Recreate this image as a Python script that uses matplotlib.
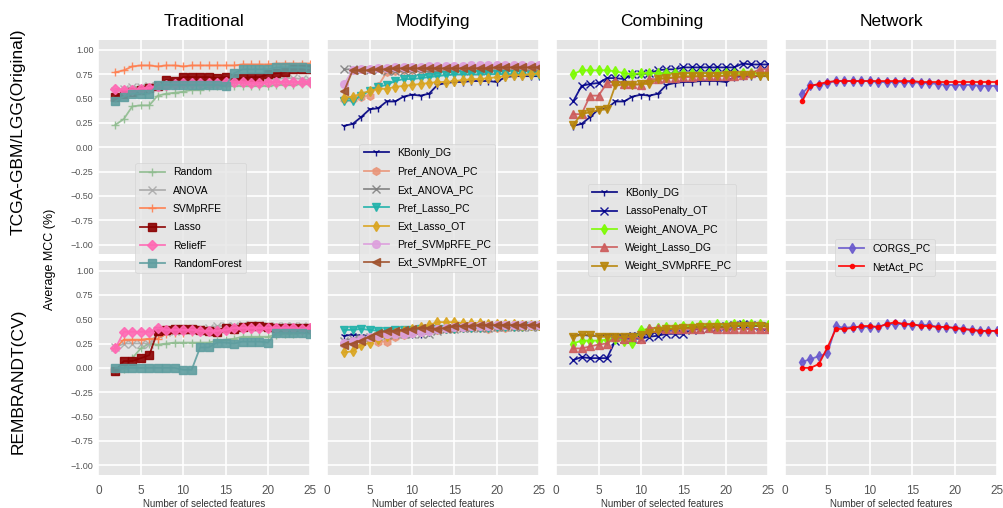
#!/usr/bin/env python3

"""
Average MCC vs number of selected features, per method family and dataset
"""

import matplotlib
matplotlib.use('Agg')
import matplotlib.pyplot as plt

n_features = list(range(2, 26))

# --- TCGA-GBM/LGG (Original) ---
trad_top = {
    'Random': [0.23, 0.29, 0.42, 0.43, 0.43, 0.53, 0.55, 0.56, 0.57, 0.59, 0.59, 0.62,
               0.63, 0.63, 0.63, 0.63, 0.63, 0.63, 0.63, 0.64, 0.64, 0.64, 0.65, 0.65],
    'ANOVA': [0.58, 0.60, 0.62, 0.62, 0.63, 0.64, 0.65, 0.66, 0.66, 0.67, 0.67, 0.67,
              0.67, 0.68, 0.68, 0.68, 0.69, 0.69, 0.70, 0.70, 0.71, 0.71, 0.70, 0.69],
    'SVMpRFE': [0.77, 0.79, 0.83, 0.84, 0.84, 0.83, 0.84, 0.84, 0.83, 0.84, 0.84, 0.84,
                0.84, 0.84, 0.84, 0.85, 0.85, 0.85, 0.85, 0.86, 0.86, 0.86, 0.86, 0.86],
    'Lasso': [0.52, 0.55, 0.57, 0.59, 0.61, 0.63, 0.69, 0.68, 0.72, 0.72, 0.72, 0.72,
              0.71, 0.72, 0.71, 0.71, 0.72, 0.72, 0.75, 0.76, 0.77, 0.80, 0.80, 0.80],
    'ReliefF': [0.60, 0.59, 0.59, 0.60, 0.61, 0.63, 0.64, 0.65, 0.66, 0.66, 0.66, 0.66,
                0.66, 0.67, 0.67, 0.67, 0.66, 0.66, 0.67, 0.67, 0.67, 0.67, 0.67, 0.67],
    'RandomForest': [0.47, 0.52, 0.55, 0.55, 0.55, 0.64, 0.64, 0.64, 0.64, 0.64, 0.64, 0.64,
                     0.64, 0.63, 0.76, 0.80, 0.80, 0.80, 0.80, 0.82, 0.82, 0.82, 0.82, 0.81],
}
kbonly_top = [0.22, 0.24, 0.31, 0.39, 0.40, 0.47, 0.47, 0.52, 0.54, 0.53, 0.55, 0.64,
              0.66, 0.67, 0.67, 0.68, 0.68, 0.68, 0.67, 0.72, 0.73, 0.73, 0.73, 0.73]
mod_top = {
    'KBonly_DG': kbonly_top,
    'Pref_ANOVA_PC': [0.50, 0.50, 0.52, 0.53, 0.63, 0.77, 0.78, 0.79, 0.79, 0.80, 0.80, 0.80,
                      0.81, 0.81, 0.81, 0.81, 0.81, 0.82, 0.82, 0.82, 0.82, 0.82, 0.82, 0.82],
    'Ext_ANOVA_PC': [0.80, 0.80, 0.79, 0.79, 0.79, 0.78, 0.78, 0.78, 0.78, 0.78, 0.78, 0.78,
                     0.78, 0.78, 0.78, 0.78, 0.78, 0.79, 0.79, 0.79, 0.79, 0.79, 0.79, 0.79],
    'Pref_Lasso_PC': [0.48, 0.48, 0.53, 0.58, 0.62, 0.64, 0.68, 0.70, 0.70, 0.71, 0.72, 0.73,
                      0.74, 0.75, 0.75, 0.75, 0.75, 0.75, 0.75, 0.75, 0.75, 0.75, 0.74, 0.74],
    'Ext_Lasso_OT': [0.51, 0.52, 0.55, 0.58, 0.60, 0.60, 0.62, 0.63, 0.64, 0.65, 0.66, 0.67,
                     0.67, 0.68, 0.69, 0.70, 0.70, 0.71, 0.72, 0.73, 0.74, 0.74, 0.75, 0.76],
    'Pref_SVMpRFE_PC': [0.65, 0.79, 0.80, 0.80, 0.81, 0.81, 0.82, 0.82, 0.82, 0.82, 0.83, 0.83,
                        0.83, 0.83, 0.83, 0.84, 0.84, 0.84, 0.84, 0.84, 0.84, 0.84, 0.84, 0.84],
    'Ext_SVMpRFE_OT': [0.58, 0.79, 0.79, 0.79, 0.80, 0.80, 0.81, 0.81, 0.81, 0.81, 0.81, 0.81,
                       0.81, 0.81, 0.81, 0.81, 0.81, 0.81, 0.82, 0.82, 0.82, 0.82, 0.82, 0.82],
}
comb_top = {
    'KBonly_DG': kbonly_top,
    'LassoPenalty_OT': [0.47, 0.63, 0.65, 0.66, 0.71, 0.71, 0.70, 0.75, 0.75, 0.76, 0.79, 0.80,
                        0.80, 0.82, 0.82, 0.82, 0.82, 0.82, 0.82, 0.82, 0.86, 0.85, 0.85, 0.85],
    'Weight_ANOVA_PC': [0.75, 0.79, 0.79, 0.79, 0.79, 0.78, 0.76, 0.75, 0.76, 0.76, 0.76, 0.76,
                        0.76, 0.76, 0.76, 0.76, 0.76, 0.76, 0.76, 0.76, 0.76, 0.76, 0.75, 0.75],
    'Weight_Lasso_DG': [0.34, 0.34, 0.53, 0.53, 0.66, 0.68, 0.65, 0.65, 0.64, 0.70, 0.70, 0.71,
                        0.71, 0.72, 0.72, 0.73, 0.73, 0.73, 0.73, 0.73, 0.74, 0.76, 0.80, 0.80],
    'Weight_SVMpRFE_PC': [0.23, 0.34, 0.36, 0.38, 0.39, 0.64, 0.64, 0.64, 0.65, 0.65, 0.70, 0.71,
                          0.72, 0.73, 0.73, 0.73, 0.73, 0.73, 0.74, 0.74, 0.74, 0.74, 0.73, 0.73],
}
net_top = {
    'CORGS_PC': [0.55, 0.64, 0.64, 0.66, 0.68, 0.68, 0.68, 0.68, 0.68, 0.67, 0.67, 0.67,
                 0.67, 0.67, 0.66, 0.66, 0.65, 0.64, 0.64, 0.64, 0.64, 0.63, 0.63, 0.63],
    'NetAct_PC': [0.47, 0.63, 0.65, 0.67, 0.68, 0.68, 0.68, 0.68, 0.68, 0.68, 0.68, 0.68,
                  0.68, 0.68, 0.67, 0.67, 0.67, 0.67, 0.67, 0.67, 0.67, 0.67, 0.67, 0.67],
}

# --- REMBRANDT (CV) ---
trad_bot = {
    'Random': [-0.03, -0.01, 0.10, 0.20, 0.25, 0.24, 0.25, 0.26, 0.26, 0.26, 0.26, 0.26,
               0.28, 0.29, 0.30, 0.32, 0.32, 0.32, 0.32, 0.34, 0.35, 0.35, 0.36, 0.36],
    'ANOVA': [0.21, 0.25, 0.25, 0.25, 0.25, 0.35, 0.37, 0.38, 0.39, 0.39, 0.40, 0.41,
              0.43, 0.43, 0.43, 0.44, 0.44, 0.44, 0.43, 0.43, 0.43, 0.43, 0.43, 0.42],
    'SVMpRFE': [0.20, 0.29, 0.29, 0.29, 0.30, 0.30, 0.35, 0.36, 0.36, 0.37, 0.38, 0.38,
                0.39, 0.39, 0.39, 0.40, 0.40, 0.40, 0.40, 0.40, 0.40, 0.40, 0.40, 0.40],
    'Lasso': [-0.03, 0.07, 0.07, 0.10, 0.13, 0.38, 0.39, 0.40, 0.40, 0.40, 0.39, 0.38,
              0.37, 0.41, 0.40, 0.42, 0.43, 0.43, 0.42, 0.41, 0.41, 0.41, 0.41, 0.41],
    'ReliefF': [0.20, 0.37, 0.37, 0.37, 0.37, 0.41, 0.39, 0.39, 0.39, 0.39, 0.38, 0.38,
                0.38, 0.39, 0.41, 0.41, 0.41, 0.41, 0.41, 0.41, 0.41, 0.41, 0.40, 0.41],
    'RandomForest': [0.00, 0.00, 0.00, 0.00, 0.00, 0.00, 0.00, 0.00, -0.02, -0.02, 0.21, 0.21,
                     0.26, 0.26, 0.25, 0.27, 0.27, 0.27, 0.26, 0.36, 0.36, 0.36, 0.36, 0.35],
}
kbonly_bot = [0.33, 0.34, 0.33, 0.33, 0.34, 0.34, 0.34, 0.35, 0.35, 0.35, 0.37, 0.39,
              0.40, 0.41, 0.41, 0.42, 0.42, 0.42, 0.42, 0.43, 0.43, 0.43, 0.43, 0.43]
mod_bot = {
    'KBonly_DG': kbonly_bot,
    'Pref_ANOVA_PC': [0.25, 0.27, 0.30, 0.30, 0.27, 0.27, 0.32, 0.34, 0.36, 0.37, 0.38, 0.39,
                      0.40, 0.40, 0.41, 0.41, 0.41, 0.40, 0.41, 0.41, 0.42, 0.42, 0.43, 0.43],
    'Ext_ANOVA_PC': [0.28, 0.30, 0.31, 0.32, 0.33, 0.34, 0.35, 0.35, 0.35, 0.35, 0.35, 0.38,
                     0.40, 0.40, 0.41, 0.41, 0.41, 0.41, 0.42, 0.42, 0.42, 0.42, 0.42, 0.42],
    'Pref_Lasso_PC': [0.39, 0.39, 0.40, 0.39, 0.38, 0.38, 0.39, 0.39, 0.39, 0.40, 0.40, 0.40,
                      0.40, 0.40, 0.41, 0.41, 0.41, 0.41, 0.42, 0.42, 0.42, 0.42, 0.43, 0.43],
    'Ext_Lasso_OT': [0.16, 0.17, 0.23, 0.26, 0.30, 0.33, 0.36, 0.38, 0.40, 0.42, 0.44, 0.47,
                     0.47, 0.47, 0.46, 0.46, 0.46, 0.45, 0.45, 0.45, 0.45, 0.44, 0.44, 0.44],
    'Pref_SVMpRFE_PC': [0.26, 0.28, 0.30, 0.32, 0.33, 0.35, 0.35, 0.35, 0.36, 0.37, 0.38, 0.40,
                        0.41, 0.42, 0.42, 0.43, 0.43, 0.43, 0.44, 0.44, 0.44, 0.44, 0.44, 0.44],
    'Ext_SVMpRFE_OT': [0.24, 0.25, 0.28, 0.32, 0.36, 0.38, 0.38, 0.39, 0.40, 0.41, 0.41, 0.40,
                       0.41, 0.43, 0.43, 0.43, 0.44, 0.44, 0.44, 0.44, 0.44, 0.44, 0.44, 0.44],
}
comb_bot = {
    'KBonly_DG': kbonly_bot,
    'LassoPenalty_OT': [0.08, 0.11, 0.10, 0.10, 0.10, 0.28, 0.30, 0.30, 0.30, 0.32, 0.33, 0.35,
                        0.35, 0.35, 0.39, 0.40, 0.41, 0.42, 0.43, 0.44, 0.45, 0.44, 0.43, 0.43],
    'Weight_ANOVA_PC': [0.25, 0.28, 0.28, 0.28, 0.29, 0.30, 0.28, 0.26, 0.39, 0.40, 0.41, 0.42,
                        0.42, 0.43, 0.43, 0.44, 0.44, 0.45, 0.44, 0.45, 0.45, 0.45, 0.45, 0.44],
    'Weight_Lasso_DG': [0.20, 0.20, 0.22, 0.24, 0.25, 0.32, 0.30, 0.32, 0.30, 0.41, 0.41, 0.40,
                        0.40, 0.40, 0.40, 0.40, 0.41, 0.40, 0.40, 0.40, 0.40, 0.40, 0.40, 0.40],
    'Weight_SVMpRFE_PC': [0.32, 0.34, 0.34, 0.32, 0.32, 0.32, 0.32, 0.32, 0.34, 0.36, 0.38, 0.40,
                          0.40, 0.41, 0.41, 0.42, 0.42, 0.42, 0.42, 0.43, 0.43, 0.43, 0.43, 0.42],
}
net_bot = {
    'CORGS_PC': [0.06, 0.09, 0.12, 0.15, 0.43, 0.41, 0.42, 0.42, 0.42, 0.42, 0.45, 0.45,
                 0.45, 0.44, 0.44, 0.44, 0.42, 0.42, 0.41, 0.40, 0.39, 0.38, 0.38, 0.38],
    'NetAct_PC': [0.00, 0.00, 0.04, 0.21, 0.40, 0.40, 0.41, 0.43, 0.43, 0.42, 0.45, 0.47,
                  0.45, 0.45, 0.43, 0.43, 0.42, 0.42, 0.41, 0.40, 0.39, 0.38, 0.38, 0.38],
}

# line style per method: (colour, marker)
styles = {
    'Random': ('darkseagreen', '+'),
    'ANOVA': ('darkgray', 'x'),
    'SVMpRFE': ('coral', '+'),
    'Lasso': ('darkred', 's'),
    'ReliefF': ('hotpink', 'D'),
    'RandomForest': ('cadetblue', 's'),
    'KBonly_DG': ('navy', '1'),
    'Pref_ANOVA_PC': ('darksalmon', 'h'),
    'Ext_ANOVA_PC': ('gray', 'x'),
    'Pref_Lasso_PC': ('lightseagreen', 'v'),
    'Ext_Lasso_OT': ('goldenrod', 'd'),
    'Pref_SVMpRFE_PC': ('plum', 'o'),
    'Ext_SVMpRFE_OT': ('sienna', '<'),
    'LassoPenalty_OT': ('darkblue', 'x'),
    'Weight_ANOVA_PC': ('lawngreen', 'd'),
    'Weight_Lasso_DG': ('indianred', '^'),
    'Weight_SVMpRFE_PC': ('darkgoldenrod', 'v'),
    'CORGS_PC': ('slateblue', 'd'),
    'NetAct_PC': ('red', '.'),
}

col_titles = ['Traditional', 'Modifying', 'Combining', 'Network']
row_titles = ['TCGA-GBM/LGG(Original)', 'REMBRANDT(CV)']
grid_data = [[trad_top, mod_top, comb_top, net_top],
             [trad_bot, mod_bot, comb_bot, net_bot]]
# legend upper-left corner in top-row axes fractions
legend_pos = [(0.175, 0.425), (0.152, 0.516), (0.148, 0.329), (0.235, 0.07)]


def draw_panel(ax, series):
    for name, vals in series.items():
        color, marker = styles[name]
        ms = 5.5 if marker in ('s', 'D', 'h', 'o', 'd', 'v', '^', '<') else 6
        ax.plot(n_features, vals, color=color, marker=marker, markersize=ms,
                linewidth=1.3, markeredgewidth=1.0, alpha=0.9, label=name)


def main():
    plt.style.use('ggplot')
    plt.rcParams['font.family'] = ['Liberation Sans', 'DejaVu Sans']

    fig, axes = plt.subplots(2, 4, figsize=(10.04, 5.08), dpi=100,
                             sharex=True, sharey=True)
    fig.subplots_adjust(left=0.098, right=0.993, top=0.921, bottom=0.065,
                        wspace=0.08, hspace=0.03)

    for r in range(2):
        for c in range(4):
            ax = axes[r, c]
            draw_panel(ax, grid_data[r][c])
            ax.set_xlim(0, 25)
            ax.set_ylim(-1.1, 1.1)
            ax.set_xticks([0, 5, 10, 15, 20, 25])
            ax.set_yticks([-1.0, -0.75, -0.5, -0.25, 0.0, 0.25, 0.5, 0.75, 1.0])
            ax.tick_params(axis='y', labelsize=6.5, length=0, colors='#555555')
            ax.tick_params(axis='x', labelsize=8.5, length=0, pad=7,
                           colors='#555555')
            ax.grid(color='white', linewidth=1.2)
            for sp in ax.spines.values():
                sp.set_visible(False)
            if r == 0:
                ax.set_title(col_titles[c], fontsize=12.5, pad=10)
                ax.set_zorder(2)
                leg = ax.legend(loc='upper left', bbox_to_anchor=legend_pos[c],
                                borderaxespad=0, fontsize=7.5, framealpha=0.8,
                                handlelength=2.4, labelspacing=0.8)
                leg.get_frame().set_facecolor('#e5e5e5')
                leg.get_frame().set_edgecolor('#d0d0d0')
            else:
                ax.set_xlabel('Number of selected features', fontsize=7,
                              color='#333333', labelpad=2)

    fig.text(0.018, 0.74, row_titles[0], rotation=90, fontsize=12.5,
             ha='center', va='center')
    fig.text(0.018, 0.25, row_titles[1], rotation=90, fontsize=12.5,
             ha='center', va='center')
    fig.text(0.05, 0.49, 'Average MCC (%)', rotation=90, fontsize=9,
             ha='center', va='center')

    fig.savefig('out.png', dpi=100)


if __name__ == '__main__':
    main()
